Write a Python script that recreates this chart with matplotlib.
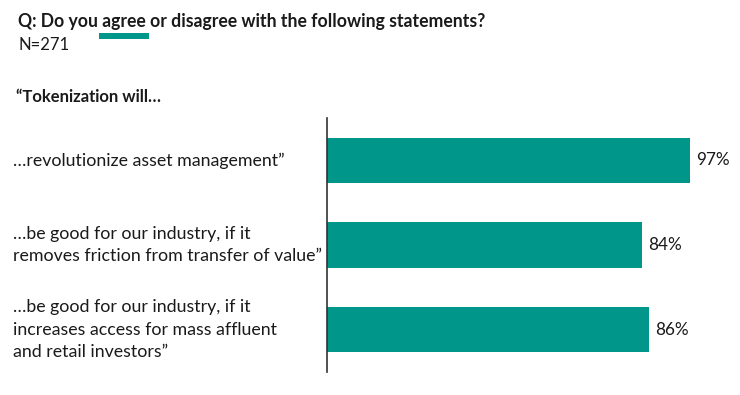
import matplotlib.pyplot as plt
from matplotlib.lines import Line2D

plt.rcParams['font.family'] = ['Lato', 'DejaVu Sans']

statements = [
    "\u2026revolutionize asset management\u201d",
    "\u2026be good for our industry, if it\nremoves friction from transfer of value\u201d",
    "\u2026be good for our industry, if it\nincreases access for mass affluent\nand retail investors\u201d",
]
agree_pct = [97, 84, 86]

teal = "#009689"
W, H = 740, 395

fig = plt.figure(figsize=(7.4, 3.95), dpi=100)
ax = fig.add_axes([327 / W, 23 / H, 413 / W, 254 / H])

pos = list(range(len(agree_pct)))
ax.barh(pos, agree_pct, height=0.535, color=teal)
ax.set_ylim(2.5, -0.5)
ax.set_xlim(0, 413 / 3.746)

for p, v in zip(pos, agree_pct):
    ax.text(v + 1.6, p, f"{v}%", va="center", ha="left", fontsize=12.3, color="#1a1a1a")

# statement labels at the left edge of the figure
for p, s in zip(pos, statements):
    ax.annotate(s, xy=(13 / W, p), xycoords=("figure fraction", "data"),
                va="center", ha="left", fontsize=12.8, color="#1a1a1a", linespacing=1.5)

ax.set_xticks([])
ax.set_yticks([])
for side in ["top", "right", "bottom"]:
    ax.spines[side].set_visible(False)
ax.spines["left"].set_color("#333333")
ax.spines["left"].set_linewidth(1.2)

# header
title_size = 12.7
fig.text(18 / W, 1 - 22 / H, "Q: Do you agree or disagree with the following statements?",
         fontsize=title_size, fontweight="bold", va="center", ha="left", color="#1a1a1a")
fig.text(18 / W, 1 - 45 / H, "N=271", fontsize=12, va="center", ha="left", color="#1a1a1a")
fig.text(16 / W, 1 - 97 / H, "\u201cTokenization will\u2026", fontsize=12, fontweight="bold",
         va="center", ha="left", color="#1a1a1a")

# teal underline under "agree"
fig.canvas.draw()
r = fig.canvas.get_renderer()
def text_w(s):
    t = fig.text(0, 0, s, fontsize=title_size, fontweight="bold")
    w = t.get_window_extent(r).width
    t.remove()
    return w
x0 = 18 + text_w("Q: Do you ")
x1 = 18 + text_w("Q: Do you agree")
fig.add_artist(Line2D([x0 / W, x1 / W], [1 - 36 / H] * 2, color=teal, lw=4.3,
                      transform=fig.transFigure))

fig.savefig("out.png", dpi=100)
